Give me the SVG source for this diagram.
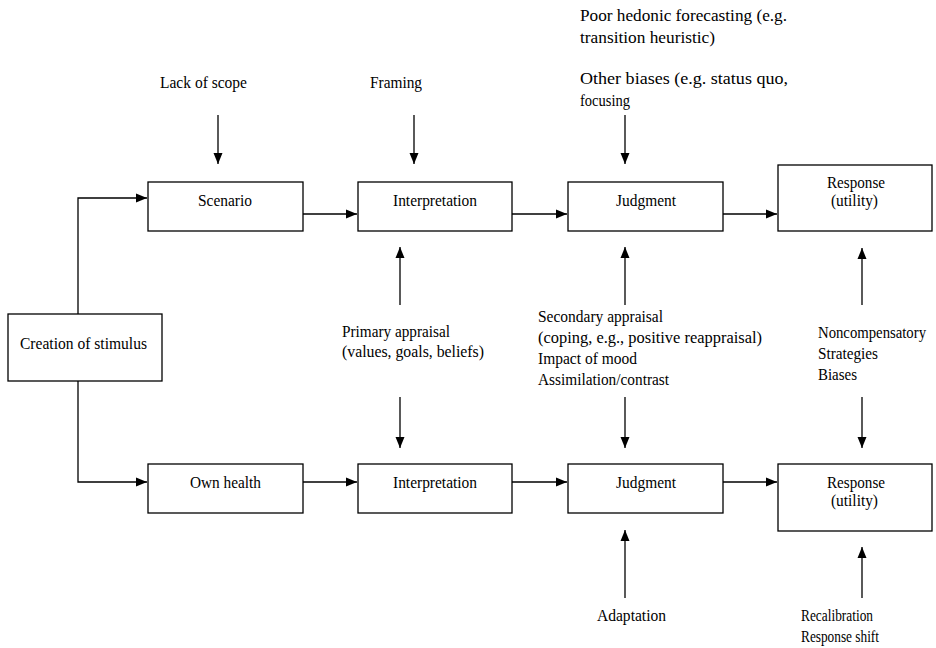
<svg xmlns="http://www.w3.org/2000/svg" width="936" height="648" viewBox="0 0 936 648">
<style>
.box{fill:#fff;stroke:#000;stroke-width:1.3}
.ar{fill:none;stroke:#000;stroke-width:1.3;marker-end:url(#ah)}
text{font-family:"Liberation Serif","Times New Roman","DejaVu Serif",serif;font-size:16px;fill:#000}
</style>
<defs>
<marker id="ah" markerUnits="userSpaceOnUse" markerWidth="12" markerHeight="10" refX="11" refY="5" orient="auto">
<path d="M0,0.5 L11,5 L0,9.5 Z" fill="#000"/>
</marker>
</defs>
<rect width="936" height="648" fill="#fff"/>
<g id="connectors">
<polyline class="ar" points="78,314 78,198 147,198"/>
<polyline class="ar" points="78,381 78,482 147,482"/>
<line class="ar" x1="303" y1="214" x2="357" y2="214"/>
<line class="ar" x1="512" y1="214" x2="567" y2="214"/>
<line class="ar" x1="723" y1="214" x2="777" y2="214"/>
<line class="ar" x1="303" y1="482" x2="357" y2="482"/>
<line class="ar" x1="512" y1="482" x2="567" y2="482"/>
<line class="ar" x1="723" y1="482" x2="777" y2="482"/>
<line class="ar" x1="218" y1="115" x2="218" y2="164"/>
<line class="ar" x1="414" y1="115" x2="414" y2="164"/>
<line class="ar" x1="625" y1="115" x2="625" y2="164"/>
<line class="ar" x1="400" y1="305" x2="400" y2="247"/>
<line class="ar" x1="400" y1="397" x2="400" y2="448"/>
<line class="ar" x1="625" y1="305" x2="625" y2="247"/>
<line class="ar" x1="625" y1="397" x2="625" y2="448"/>
<line class="ar" x1="862" y1="305" x2="862" y2="248"/>
<line class="ar" x1="862" y1="397" x2="862" y2="448"/>
<line class="ar" x1="625" y1="598" x2="625" y2="530"/>
<line class="ar" x1="862" y1="598" x2="862" y2="547"/>
</g>
<g font-family="Liberation Serif, Times New Roman, serif">
<g id="creation"><rect class="box" x="8" y="314" width="154" height="67"/><text x="20" y="349" textLength="127" lengthAdjust="spacingAndGlyphs">Creation of stimulus</text></g>
<g id="scenario"><rect class="box" x="148" y="182" width="155" height="49"/><text x="198" y="206" textLength="54" lengthAdjust="spacingAndGlyphs">Scenario</text></g>
<g id="interp1"><rect class="box" x="358" y="182" width="154" height="49"/><text x="393" y="206" textLength="84" lengthAdjust="spacingAndGlyphs">Interpretation</text></g>
<g id="judg1"><rect class="box" x="568" y="182" width="155" height="49"/><text x="616" y="206" textLength="60" lengthAdjust="spacingAndGlyphs">Judgment</text></g>
<g id="resp1"><rect class="box" x="778" y="165" width="154" height="66"/><text x="827" y="188" textLength="58" lengthAdjust="spacingAndGlyphs">Response</text><text x="831" y="206" textLength="47" lengthAdjust="spacingAndGlyphs">(utility)</text></g>
<g id="own"><rect class="box" x="148" y="464" width="155" height="49"/><text x="190" y="488" textLength="71" lengthAdjust="spacingAndGlyphs">Own health</text></g>
<g id="interp2"><rect class="box" x="358" y="464" width="154" height="49"/><text x="393" y="488" textLength="84" lengthAdjust="spacingAndGlyphs">Interpretation</text></g>
<g id="judg2"><rect class="box" x="568" y="464" width="155" height="49"/><text x="616" y="488" textLength="60" lengthAdjust="spacingAndGlyphs">Judgment</text></g>
<g id="resp2"><rect class="box" x="778" y="464" width="154" height="67"/><text x="827" y="488" textLength="58" lengthAdjust="spacingAndGlyphs">Response</text><text x="831" y="506" textLength="47" lengthAdjust="spacingAndGlyphs">(utility)</text></g>
<g id="labels">
<text x="160" y="88" textLength="87" lengthAdjust="spacingAndGlyphs">Lack of scope</text>
<text x="370" y="88" textLength="52" lengthAdjust="spacingAndGlyphs">Framing</text>
<text x="580" y="21" textLength="207" lengthAdjust="spacingAndGlyphs">Poor hedonic forecasting (e.g.</text>
<text x="580" y="43" textLength="135" lengthAdjust="spacingAndGlyphs">transition heuristic)</text>
<text x="580" y="84" textLength="208" lengthAdjust="spacingAndGlyphs">Other biases (e.g. status quo,</text>
<text x="580" y="106" textLength="50" lengthAdjust="spacingAndGlyphs">focusing</text>
<text x="342" y="337" textLength="108" lengthAdjust="spacingAndGlyphs">Primary appraisal</text>
<text x="342" y="357" textLength="142" lengthAdjust="spacingAndGlyphs">(values, goals, beliefs)</text>
<text x="538" y="322" textLength="125" lengthAdjust="spacingAndGlyphs">Secondary appraisal</text>
<text x="538" y="343" textLength="224" lengthAdjust="spacingAndGlyphs">(coping, e.g., positive reappraisal)</text>
<text x="538" y="364" textLength="99" lengthAdjust="spacingAndGlyphs">Impact of mood</text>
<text x="538" y="385" textLength="131" lengthAdjust="spacingAndGlyphs">Assimilation/contrast</text>
<text x="818" y="338" textLength="108" lengthAdjust="spacingAndGlyphs">Noncompensatory</text>
<text x="818" y="359" textLength="60" lengthAdjust="spacingAndGlyphs">Strategies</text>
<text x="818" y="380" textLength="39" lengthAdjust="spacingAndGlyphs">Biases</text>
<text x="597" y="621" textLength="69" lengthAdjust="spacingAndGlyphs">Adaptation</text>
<text x="801" y="621" textLength="72" lengthAdjust="spacingAndGlyphs">Recalibration</text>
<text x="801" y="642" textLength="78" lengthAdjust="spacingAndGlyphs">Response shift</text>
</g>
</g>
</svg>
